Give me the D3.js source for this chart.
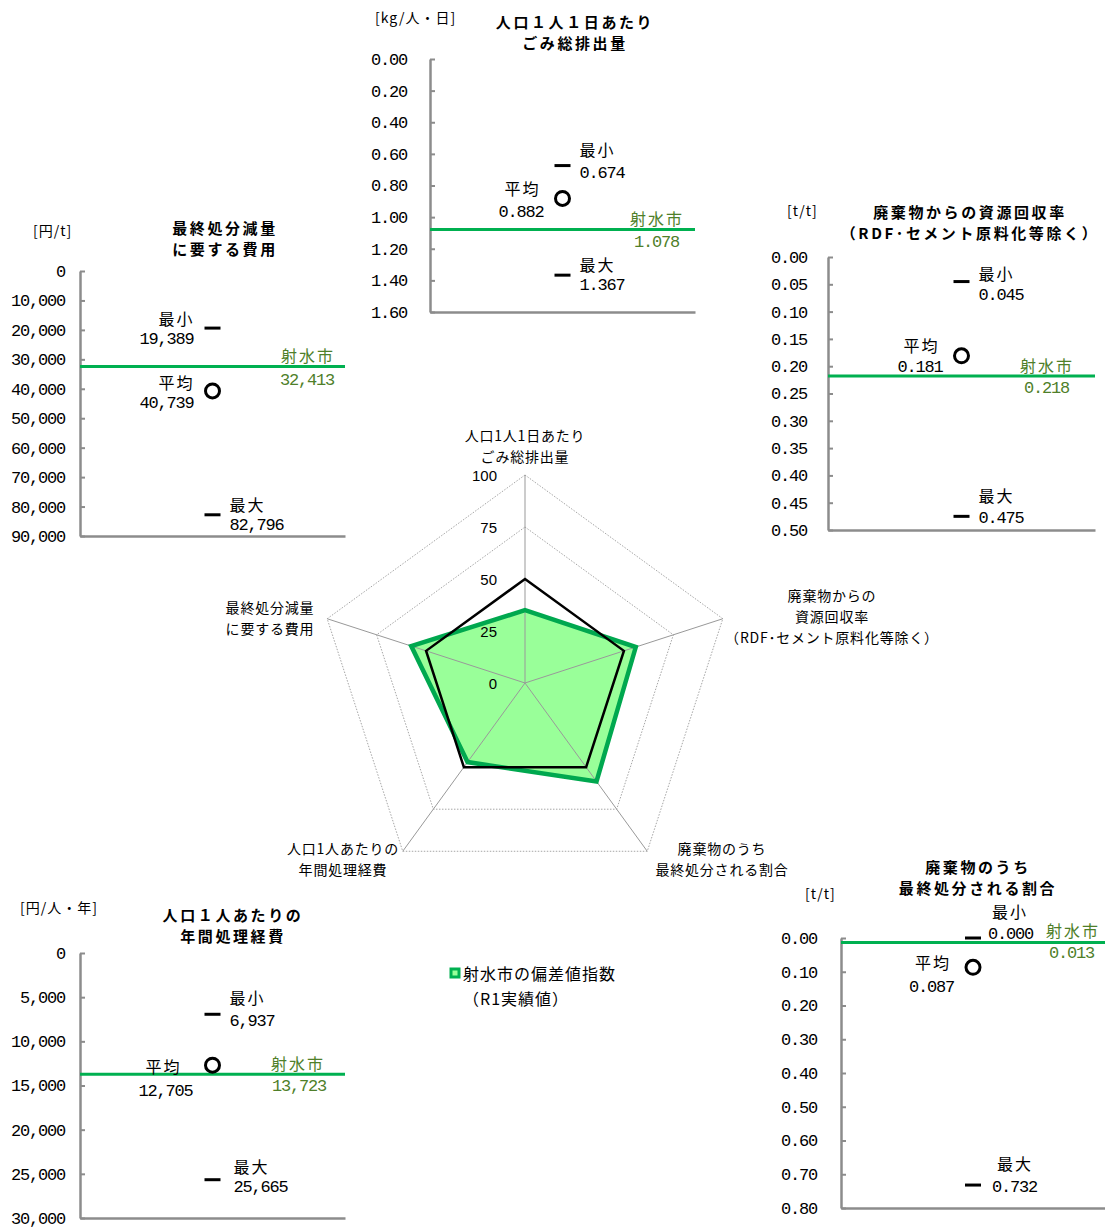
<!DOCTYPE html>
<html><head><meta charset="utf-8">
<script src="https://cdn.jsdelivr.net/npm/d3@7"></script>
<style>
body{margin:0;background:#fff;}
svg{display:block;}
</style></head><body>
<svg id="chart" width="1105" height="1228"></svg>
<script>
// ---------- radar data ----------
const radarAxisLabels = [
  ["人口1人1日あたり", "ごみ総排出量"],
  ["廃棄物からの", "資源回収率", "（RDF･セメント原料化等除く）"],
  ["廃棄物のうち", "最終処分される割合"],
  ["人口1人あたりの", "年間処理経費"],
  ["最終処分減量", "に要する費用"]
];
const radarCityValues = [35, 56, 58.5, 47, 57.5];
const radarAverageValues = [50, 50, 50, 50, 50];
const radarTicks = [0, 25, 50, 75, 100];
const legendLines = ["射水市の偏差値指数", "（R1実績値）"];

// ---------- panel data ----------
const panelTitles = [
  ["人口１人１日あたり", "ごみ総排出量"],
  ["廃棄物からの資源回収率", "（RDF･セメント原料化等除く）"],
  ["廃棄物のうち", "最終処分される割合"],
  ["人口１人あたりの", "年間処理経費"],
  ["最終処分減量", "に要する費用"]
];
const panelUnits = ["[kg/人・日]", "[t/t]", "[t/t]", "[円/人・年]", "[円/t]"];
const panelMin  = [0.674, 0.045, 0.000, 6937, 19389];
const panelAvg  = [0.882, 0.181, 0.087, 12705, 40739];
const panelMax  = [1.367, 0.475, 0.732, 25665, 82796];
const panelCity = [1.078, 0.218, 0.013, 13723, 32413];
const panelTicks = [
  [0, 0.2, 0.4, 0.6, 0.8, 1.0, 1.2, 1.4, 1.6],
  [0, 0.05, 0.10, 0.15, 0.20, 0.25, 0.30, 0.35, 0.40, 0.45, 0.50],
  [0, 0.1, 0.2, 0.3, 0.4, 0.5, 0.6, 0.7, 0.8],
  [0, 5000, 10000, 15000, 20000, 25000, 30000],
  [0, 10000, 20000, 30000, 40000, 50000, 60000, 70000, 80000, 90000]
];
const panelTickFormats = [".2f", ".2f", ".2f", ",", ","];
const panelValueFormats = [".3f", ".3f", ".3f", ",", ","];
const markNames = {min: "最小", avg: "平均", max: "最大", city: "射水市"};

// ---------- layout ----------
// side r: labels to the right of the mark; l: to the left. dx = [name, number] offsets from mark.
const panelLayout = [
  {axisX:430, yTop:59,  yBottom:312,  xRight:695,  pad:23, title:[575,21,42],   unit:[375,17],  cityX:[684,679],
   min:{side:"r",dy:[-17,8]}, avg:{side:"l",dy:[-10,14]}, city:{dy:[-11,13]}, max:{side:"r",dy:[-11,10]}},
  {axisX:828, yTop:257, yBottom:530,  xRight:1095, pad:21, title:[970,211,232], unit:[787,210], cityX:[1074,1069],
   min:{side:"r",dy:[-9,14]}, avg:{side:"l",dy:[-11,12]}, city:{dy:[-11,12]}, max:{side:"r",dy:[-21,2]}},
  {axisX:841, yTop:938, yBottom:1208, xRight:1105, pad:24, title:[978,866,887], unit:[805,893], cityX:[1100,1094],
   min:{side:"r",dy:[-27,-4],dx:[19,15]}, avg:{side:"l",dy:[-5,20]}, city:{dy:[-12,11]}, max:{side:"r",dy:[-22,2],dx:[24,19]}},
  {axisX:80,  yTop:953, yBottom:1218, xRight:345,  pad:15, title:[233,914,935], unit:[20,907],  cityX:[325,326],
   min:{side:"r",dy:[-17,7]}, avg:{side:"l",dy:[1,26],dx:[-31,-20]}, city:{dy:[-11,12]}, max:{side:"r",dy:[-14,8],dx:[21,21]}},
  {axisX:80,  yTop:271, yBottom:536,  xRight:345,  pad:15, title:[225,227,248], unit:[33,230],  cityX:[335,334],
   min:{side:"l",dy:[-10,11],dx:[-18,-19]}, avg:{side:"l",dy:[-9,13],dx:[-18,-19]}, city:{dy:[-11,14]}, max:{side:"r",dy:[-11,11]}}
];

const JP = "'Noto Sans CJK JP','Noto Sans',sans-serif";
const MONO = "'Liberation Mono','DejaVu Sans Mono',monospace";
const GREEN = "#00b050";
const GREEN_TEXT = "#4f7f2a";
const AXIS = "#8c8c8c";

const svg = d3.select("#chart");

// ---------- panels ----------
panelLayout.forEach((L, i) => {
  const g = svg.append("g");
  const y = d3.scaleLinear().domain([0, d3.max(panelTicks[i])]).range([L.yTop, L.yBottom]);
  const x = d3.scalePoint().domain(["v"]).range([L.axisX, L.xRight]).padding(0.5);
  const cx = x("v");

  const ya = d3.axisLeft(y).tickValues(panelTicks[i]).tickSizeInner(-5).tickSizeOuter(0)
    .tickPadding(L.pad).tickFormat(d3.format(panelTickFormats[i]));
  const gy = g.append("g").attr("transform", `translate(${L.axisX},0)`).call(ya);
  gy.select(".domain").attr("stroke", AXIS).attr("stroke-width", 2.5);
  gy.selectAll(".tick line").attr("stroke", AXIS).attr("stroke-width", 2);
  gy.selectAll(".tick text").attr("font-family", MONO).attr("font-size", 17)
    .attr("letter-spacing", "-1.2px").attr("fill", "#000");

  const xa = d3.axisBottom(x).tickValues([]).tickSizeOuter(0);
  const gx = g.append("g").attr("transform", `translate(0,${L.yBottom})`).call(xa);
  gx.select(".domain").attr("stroke", AXIS).attr("stroke-width", 2.5);

  // city line
  g.append("line").attr("x1", L.axisX).attr("x2", L.xRight)
    .attr("y1", y(panelCity[i])).attr("y2", y(panelCity[i]))
    .attr("stroke", GREEN).attr("stroke-width", 3);

  // min / max dashes
  [panelMin[i], panelMax[i]].forEach(v => {
    g.append("line").attr("x1", cx - 8).attr("x2", cx + 8)
      .attr("y1", y(v)).attr("y2", y(v)).attr("stroke", "#000").attr("stroke-width", 3);
  });
  // average circle
  g.append("circle").attr("cx", cx).attr("cy", y(panelAvg[i])).attr("r", 7)
    .attr("fill", "#fff").attr("stroke", "#000").attr("stroke-width", 3);

  const fmt = d3.format(panelValueFormats[i]);
  const vals = {min: panelMin[i], avg: panelAvg[i], max: panelMax[i], city: panelCity[i]};
  ["min", "avg", "max", "city"].forEach(k => {
    const s = L[k];
    let xs, anchor;
    if (k === "city") { xs = L.cityX; anchor = "end"; }
    else if (s.side === "r") { const d = s.dx || [17, 17]; xs = [cx + d[0], cx + d[1]]; anchor = "start"; }
    else { const d = s.dx || [-22, -19]; xs = [cx + d[0], cx + d[1]]; anchor = "end"; }
    const col = k === "city" ? GREEN_TEXT : "#000";
    const yy = y(vals[k]);
    g.append("text").attr("x", xs[0]).attr("y", yy + s.dy[0]).attr("text-anchor", anchor)
      .attr("dominant-baseline", "central").attr("font-family", JP).attr("font-size", 16)
      .attr("letter-spacing", anchor === "end" ? "2px" : "2px").attr("fill", col).text(markNames[k]);
    g.append("text").attr("x", xs[1]).attr("y", yy + s.dy[1]).attr("text-anchor", anchor)
      .attr("dominant-baseline", "central").attr("font-family", MONO).attr("font-size", 17)
      .attr("letter-spacing", "-1.2px").attr("fill", col).text(fmt(vals[k]));
  });

  // title
  panelTitles[i].forEach((t, j) => {
    g.append("text").attr("x", L.title[0]).attr("y", L.title[1 + j]).attr("text-anchor", "middle")
      .attr("dominant-baseline", "central").attr("font-family", JP).attr("font-size", 15)
      .attr("font-weight", "bold").attr("letter-spacing", "2.6px").attr("fill", "#000").text(t);
  });
  // unit
  g.append("text").attr("x", L.unit[0]).attr("y", L.unit[1]).attr("dominant-baseline", "central")
    .attr("font-family", JP).attr("font-size", 14).attr("letter-spacing", "1px")
    .attr("fill", "#000").text(panelUnits[i]);
});

// ---------- radar ----------
const RC = {cx: 525, cy: 683};
const rScale = d3.scaleLinear().domain([0, 100]).range([0, 208]);
const n = radarAxisLabels.length;
const ang = i => i * 2 * Math.PI / n;
const pt = (i, v) => [RC.cx + rScale(v) * Math.sin(ang(i)), RC.cy - rScale(v) * Math.cos(ang(i))];
const poly = vals => "M" + vals.map((v, i) => pt(i, v).join(",")).join("L") + "Z";

const gr = svg.append("g");
radarTicks.filter(t => t > 0).forEach(t => {
  gr.append("path").attr("d", poly(d3.range(n).map(() => t)))
    .attr("fill", "none").attr("stroke", "#a6a6a6").attr("stroke-width", 1)
    .attr("stroke-dasharray", "1.5,1.5");
});
gr.append("path").attr("d", poly(radarCityValues)).attr("fill", "#99ff99").attr("stroke", "none");
d3.range(n).forEach(i => {
  const p = pt(i, 100);
  gr.append("line").attr("x1", RC.cx).attr("y1", RC.cy).attr("x2", p[0]).attr("y2", p[1])
    .attr("stroke", "#999").attr("stroke-width", 1);
});
gr.append("path").attr("d", poly(radarCityValues)).attr("fill", "none")
  .attr("stroke", "#00a84f").attr("stroke-width", 4.5).attr("stroke-linejoin", "miter");
gr.append("path").attr("d", poly(radarAverageValues)).attr("fill", "none")
  .attr("stroke", "#000").attr("stroke-width", 2.5);

radarTicks.forEach(t => {
  gr.append("text").attr("x", RC.cx - 28).attr("y", RC.cy - rScale(t))
    .attr("text-anchor", "end").attr("dominant-baseline", "central")
    .attr("font-family", "'Liberation Sans',Arial,sans-serif").attr("font-size", 15)
    .attr("fill", "#000").text(t);
});

const radarLabelPos = [[525, 435], [832, 595], [722, 848], [343, 848], [270, 607]];
radarAxisLabels.forEach((lines, i) => {
  lines.forEach((t, j) => {
    gr.append("text").attr("x", radarLabelPos[i][0]).attr("y", radarLabelPos[i][1] + j * 21)
      .attr("text-anchor", "middle").attr("dominant-baseline", "central")
      .attr("font-family", JP).attr("font-size", 14).attr("letter-spacing", "0.8px")
      .attr("fill", "#000").text(t);
  });
});

// legend
const lg = svg.append("g");
lg.append("rect").attr("x", 451).attr("y", 969).attr("width", 8).attr("height", 8)
  .attr("fill", "#99ff99").attr("stroke", GREEN).attr("stroke-width", 3);
legendLines.forEach((t, j) => {
  lg.append("text").attr("x", 463).attr("y", 973 + j * 25).attr("dominant-baseline", "central")
    .attr("font-family", JP).attr("font-size", 16).attr("letter-spacing", "1px")
    .attr("fill", "#000").text(t);
});
</script>
</body></html>
